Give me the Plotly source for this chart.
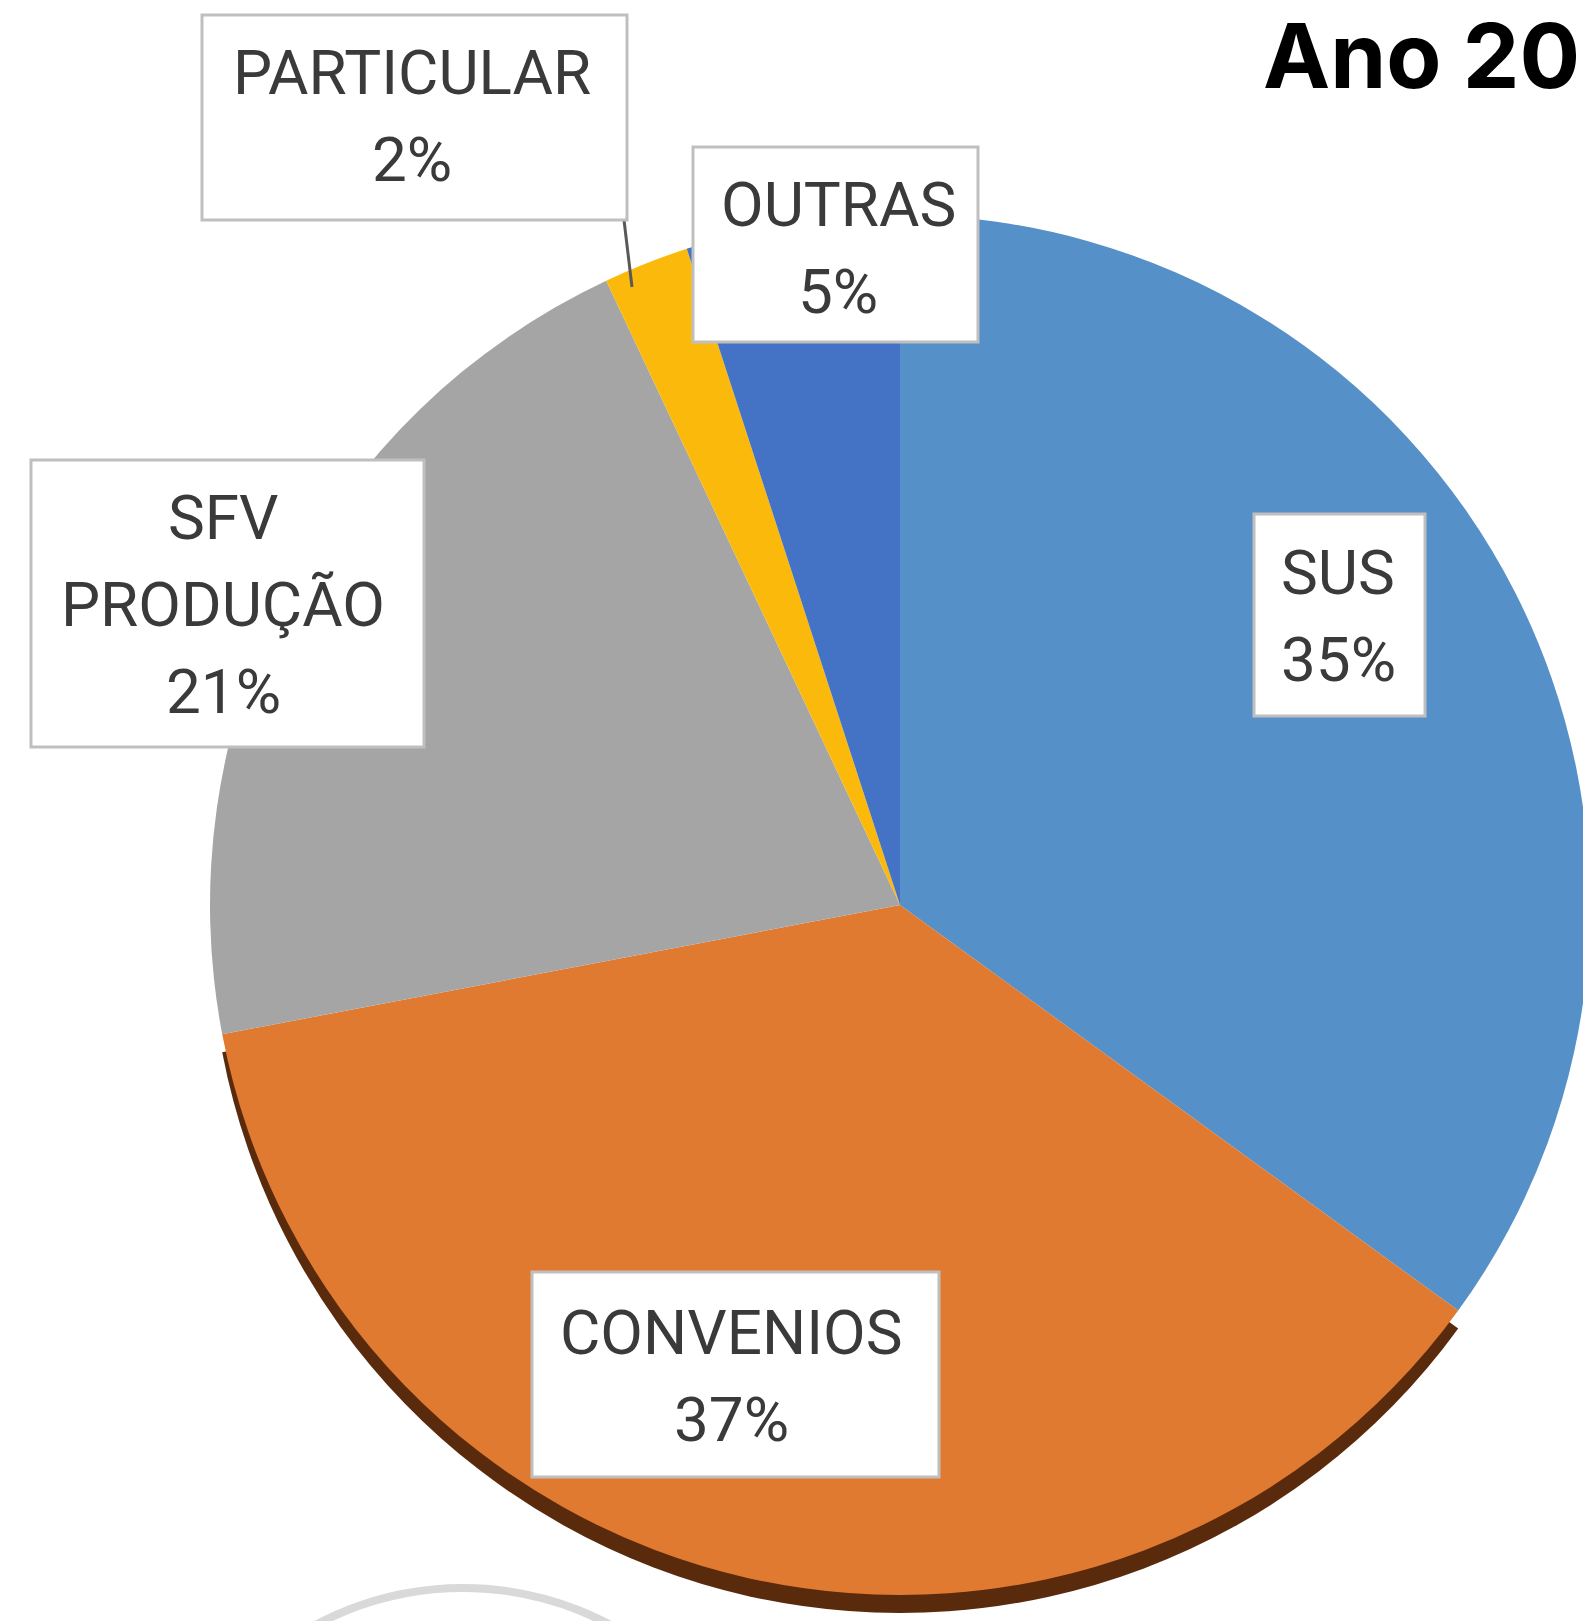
import plotly.graph_objects as go

# ---- data ----
categories = ["SUS", "CONVENIOS", "SFV PRODUÇÃO", "PARTICULAR", "OUTRAS"]
percent_values = [35, 37, 21, 2, 5]
slice_colors = ["#5590C9", "#E07A30", "#A5A5A5", "#FBBA0B", "#4472C4"]
shadow_colors = ["rgba(0,0,0,0)", "#5A2A0C", "rgba(0,0,0,0)", "rgba(0,0,0,0)", "rgba(0,0,0,0)"]
title_text = "Ano 20"

# ---- layout constants (pixels) ----
W, H = 1620, 1660
CX, CY, R = 900, 905, 690
SHADOW_DY = 18
LABEL_FONT = "Roboto, Liberation Sans, sans-serif"
LABEL_SIZE = 62
LINE_GAP = 87


def px(x):
    return x / W


def py(y):
    return 1 - y / H


def domain(cx, cy, r):
    return dict(x=[px(cx - r), px(cx + r)], y=[py(cy + r), py(cy - r)])


fig = go.Figure()

# shadow (3D edge under the pie)
fig.add_trace(go.Pie(
    labels=categories, values=percent_values, sort=False, direction="clockwise",
    rotation=0, marker=dict(colors=shadow_colors, line=dict(width=0)),
    textinfo="none", hoverinfo="skip", showlegend=False,
    domain=domain(CX, CY + SHADOW_DY, R),
))

fig.add_trace(go.Pie(
    labels=categories, values=percent_values, sort=False, direction="clockwise",
    rotation=0, marker=dict(colors=slice_colors, line=dict(width=0)),
    textinfo="none", hoverinfo="label+percent", showlegend=False,
    domain=domain(CX, CY, R),
))

# label boxes: (x0, y0, x1, y1) and text center (x, first line center y)
box_geom = {
    "SUS": ((1254, 514, 1425, 716), (1338, 572)),
    "CONVENIOS": ((532, 1272, 939, 1477), (731, 1332)),
    "SFV PRODUÇÃO": ((31, 460, 424, 747), (223, 517)),
    "PARTICULAR": ((202, 15, 627, 220), (412, 72)),
    "OUTRAS": ((693, 147, 978, 342), (838, 204)),
}

shapes = [
    # leader line for PARTICULAR
    dict(type="line", xref="paper", yref="paper", layer="above",
         x0=px(624), y0=py(220), x1=px(632), y1=py(287),
         line=dict(color="#595959", width=3)),
    # grey circle partially visible at the bottom
    dict(type="circle", xref="paper", yref="paper",
         x0=px(463 - 313), x1=px(463 + 313), y0=py(1901 + 313), y1=py(1901 - 313),
         line=dict(color="#D9D9D9", width=8)),
]

annotations = []
for cat, val in zip(categories, percent_values):
    (x0, y0, x1, y1), (tx, ty) = box_geom[cat]
    shapes.append(dict(
        type="rect", xref="paper", yref="paper", layer="above",
        x0=px(x0), x1=px(x1), y0=py(y1), y1=py(y0),
        fillcolor="white", line=dict(color="#BFBFBF", width=3),
    ))
    lines = cat.split(" ") + [f"{val}%"]
    for i, line in enumerate(lines):
        annotations.append(dict(
            x=px(tx), y=py(ty + i * LINE_GAP), xref="paper", yref="paper",
            xanchor="center", yanchor="middle", showarrow=False,
            text=line,
            font=dict(family=LABEL_FONT, size=LABEL_SIZE, color="#3A3A3A"),
        ))

annotations.append(dict(
    x=px(1581), y=py(0), xref="paper", yref="paper",
    xanchor="right", yanchor="top", showarrow=False,
    text=title_text, borderpad=0,
    font=dict(family="Inter, Roboto, sans-serif", size=90, color="black", weight="bold"),
))

fig.update_layout(
    width=W, height=H,
    margin=dict(l=0, r=0, t=0, b=0),
    paper_bgcolor="white", plot_bgcolor="white",
    annotations=annotations, shapes=shapes,
)

fig.write_html(
    "out.html",
    config={"displayModeBar": False},
    post_script="document.body.style.margin='0';document.body.style.overflow='hidden';document.documentElement.style.overflow='hidden';",
)
